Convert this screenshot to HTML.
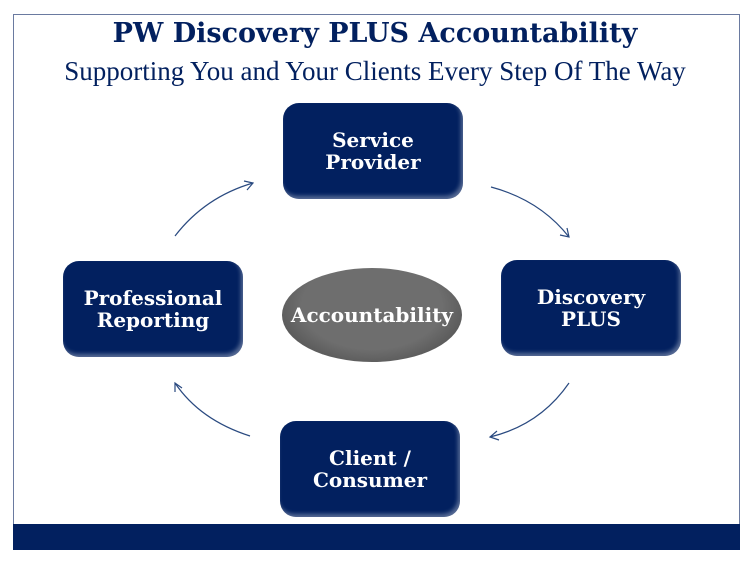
<!DOCTYPE html>
<html><head><style>
body{margin:0;width:750px;height:563px;background:#fff;overflow:hidden;font-family:"DejaVu Serif","Liberation Serif",serif;}
.frame{position:absolute;left:13px;top:14px;width:727px;height:536px;border:1px solid #6a7aa0;box-sizing:border-box;}
.band{position:absolute;left:13px;top:524px;width:727px;height:26px;background:#02205f;}
.t1{position:absolute;left:0;width:750px;top:18px;text-align:center;color:#02205f;font-weight:bold;font-size:27px;}
.t2{position:absolute;left:0;width:750px;top:56px;text-align:center;color:#02205f;font-family:"Liberation Serif",serif;font-size:27px;}
.box{position:absolute;width:180px;height:96px;background:#02205f;border-radius:16px;color:#fff;font-weight:bold;font-size:20px;line-height:22px;display:flex;align-items:center;justify-content:center;text-align:center;box-shadow:inset -2px -3px 4px rgba(255,255,255,.35);}
.ell{position:absolute;left:282px;top:268px;width:180px;height:94px;border-radius:50%;background:radial-gradient(ellipse at 50% 40%,#6e6e6e 55%,#555 80%,#888 100%);color:#fff;font-weight:bold;font-size:20px;display:flex;align-items:center;justify-content:center;}
</style></head><body>
<div class="frame"></div>
<div class="band"></div>
<div class="t1">PW Discovery PLUS Accountability</div>
<div class="t2">Supporting You and Your Clients Every Step Of The Way</div>
<div class="box" style="left:283px;top:103px;">Service<br>Provider</div>
<div class="box" style="left:501px;top:260px;">Discovery<br>PLUS</div>
<div class="box" style="left:63px;top:261px;">Professional<br>Reporting</div>
<div class="box" style="left:280px;top:421px;">Client /<br>Consumer</div>
<div class="ell">Accountability</div>
<svg width="750" height="563" style="position:absolute;left:0;top:0" fill="none" stroke="#2a4a80" stroke-width="1.2">
<path d="M491 187 Q540 200 569 237"/><path d="M560 235 L569 237 L567 228"/>
<path d="M569 383 Q540 425 490 437"/><path d="M497 431 L490 437 L499 440"/>
<path d="M250 436 Q200 420 175 383"/><path d="M175 392 L175 383 L182 388"/>
<path d="M175 236 Q205 197 253 183"/><path d="M244 181 L253 183 L247 190"/>
</svg>
</body></html>
